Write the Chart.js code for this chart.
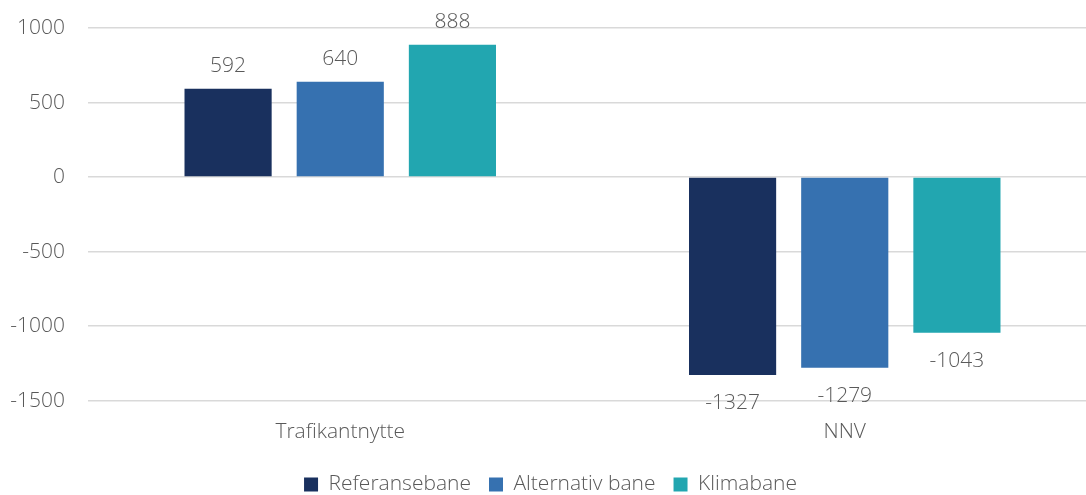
<!DOCTYPE html>
<html>
<head>
<meta charset="utf-8">
<script src="https://cdn.jsdelivr.net/npm/chart.js@4/dist/chart.umd.min.js"></script>
<style>
  html, body { margin: 0; padding: 0; background: #fff; overflow: hidden; }
  #chart { display: block; }
</style>
</head>
<body>
<!-- plot area runs a little past the right edge of the window -->
<canvas id="chart" width="1097" height="495"></canvas>
<script>
// Nytte og kostnader per bane
const categories = ['Trafikantnytte', 'NNV'];
const seriesNames = ['Referansebane', 'Alternativ bane', 'Klimabane'];
const referansebane = [592, -1327];
const alternativBane = [640, -1279];
const klimabane = [888, -1043];
const yTicks = [1000, 500, 0, -500, -1000, -1500];

const COLORS = ['#19305e', '#3671b0', '#22a6b0'];
const TEXT = '#595959';
const FONT = "'Open Sans', 'Noto Sans', sans-serif";
const WEIGHT = '300';
const SIZE = 21;

// value labels above positive bars, below negative ones
const valueLabels = {
  id: 'valueLabels',
  afterDatasetsDraw(chart) {
    const ctx = chart.ctx;
    ctx.save();
    ctx.font = WEIGHT + ' ' + SIZE + 'px ' + FONT;
    ctx.fillStyle = TEXT;
    ctx.textAlign = 'center';
    ctx.textBaseline = 'middle';
    chart.data.datasets.forEach((ds, i) => {
      const meta = chart.getDatasetMeta(i);
      meta.data.forEach((bar, j) => {
        const v = ds.data[j];
        const y = v >= 0 ? bar.y - 23 : bar.y + 28;
        ctx.fillText(String(v), bar.x, y);
      });
    });
    ctx.restore();
  },
};

const ctx = document.getElementById('chart').getContext('2d');
new Chart(ctx, {
  type: 'bar',
  data: {
    labels: categories,
    datasets: [referansebane, alternativBane, klimabane].map((data, i) => ({
      label: seriesNames[i],
      data,
      backgroundColor: COLORS[i],
      borderWidth: 0,
      categoryPercentage: 0.667,
      barPercentage: 0.777,
    })),
  },
  options: {
    responsive: false,
    animation: false,
    layout: { padding: { top: 28, right: 0, left: 4, bottom: -10 } },
    plugins: {
      legend: {
        position: 'bottom',
        labels: {
          boxWidth: 14,
          boxHeight: 14,
          padding: 18,
          color: TEXT,
          font: { family: FONT, size: SIZE, weight: WEIGHT },
        },
      },
      tooltip: { enabled: false },
    },
    scales: {
      x: {
        grid: { display: false },
        border: { display: false },
        ticks: { color: TEXT, padding: 11, font: { family: FONT, size: SIZE, weight: WEIGHT } },
      },
      y: {
        min: -1500,
        max: 1000,
        afterBuildTicks: axis => { axis.ticks = yTicks.map(value => ({ value })); },
        afterFit: scale => {
          scale.width = 84;
          scale.paddingTop = 0;
          scale.paddingBottom = 0;
        },
        grid: { color: '#d9d9d9', lineWidth: 1.5, drawTicks: false },
        border: { display: false },
        ticks: {
          color: TEXT,
          padding: 23,
          font: { family: FONT, size: SIZE, weight: WEIGHT },
          callback: v => String(v),
        },
      },
    },
  },
  plugins: [valueLabels],
});
</script>
</body>
</html>
